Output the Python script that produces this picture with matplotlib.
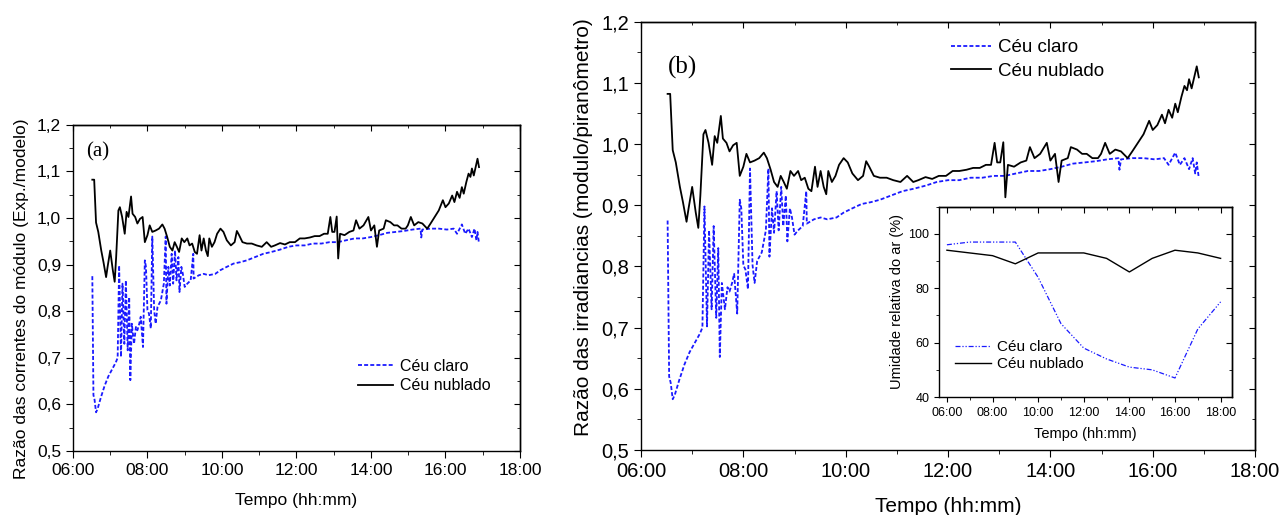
import matplotlib as mpl
import matplotlib.pyplot as plt
from matplotlib.ticker import MultipleLocator, FuncFormatter

mpl.rcParams.update({
    'font.family': ['Liberation Sans', 'DejaVu Sans'],
    'axes.linewidth': 1.0,
    'xtick.direction': 'out', 'ytick.direction': 'out',
})

# ---- main series (time in hours, ratio) ----
nub_t = [6.52, 6.57, 6.62, 6.68, 6.76, 6.82, 6.89, 6.93, 7.0, 7.07, 7.12, 7.16, 7.22, 7.26, 7.32,
         7.39, 7.44, 7.49, 7.56, 7.6, 7.67, 7.73, 7.8, 7.87, 7.93, 8.0, 8.06, 8.13, 8.22, 8.31,
         8.4, 8.46, 8.53, 8.6, 8.67, 8.73, 8.79, 8.85, 8.92, 8.99, 9.07, 9.13, 9.2, 9.27, 9.33,
         9.4, 9.45, 9.51, 9.57, 9.62, 9.66, 9.73, 9.8, 9.87, 9.96, 10.04, 10.13, 10.24, 10.34, 10.4,
         10.46, 10.55, 10.67, 10.8, 10.93, 11.07, 11.2, 11.32, 11.42, 11.56, 11.69, 11.82, 11.96, 12.09, 12.22,
         12.36, 12.49, 12.62, 12.74, 12.84, 12.91, 12.96, 13.02, 13.08, 13.12, 13.17, 13.29, 13.42, 13.53, 13.6,
         13.69, 13.8, 13.93, 14.0, 14.09, 14.16, 14.22, 14.34, 14.4, 14.52, 14.62, 14.71, 14.82, 14.93, 14.99,
         15.07, 15.16, 15.27, 15.38, 15.51, 15.6, 15.71, 15.82, 15.93, 16.0, 16.09, 16.18, 16.24, 16.31, 16.38,
         16.44, 16.49, 16.56, 16.62, 16.67, 16.71, 16.76, 16.81, 16.86, 16.9]
nub_v = [1.082, 1.082, 0.99, 0.97, 0.93, 0.905, 0.873, 0.895, 0.93, 0.888, 0.863, 0.916, 1.016, 1.023, 1.002,
         0.966, 1.013, 1.002, 1.046, 1.009, 1.002, 0.988, 0.998, 1.002, 0.948, 0.963, 0.984, 0.97, 0.973, 0.977,
         0.986, 0.977, 0.959, 0.938, 0.93, 0.948, 0.938, 0.927, 0.956, 0.948, 0.956, 0.941, 0.945, 0.927, 0.923,
         0.963, 0.93, 0.956, 0.93, 0.918, 0.956, 0.938, 0.948, 0.966, 0.977, 0.97, 0.952, 0.941, 0.948, 0.972,
         0.963, 0.948, 0.945, 0.945, 0.941, 0.938, 0.948, 0.938, 0.941, 0.946, 0.943, 0.948, 0.948, 0.956, 0.956,
         0.958, 0.961, 0.961, 0.966, 0.966, 1.002, 0.97, 0.97, 1.003, 0.913, 0.966, 0.963, 0.97, 0.973, 0.995,
         0.977, 0.984, 1.002, 0.973, 0.984, 0.938, 0.973, 0.977, 0.995, 0.991, 0.984, 0.984, 0.977, 0.977, 0.984,
         1.002, 0.984, 0.991, 0.988, 0.977, 0.988, 1.002, 1.016, 1.038, 1.023, 1.031, 1.048, 1.034, 1.056, 1.043,
         1.066, 1.052, 1.077, 1.095, 1.088, 1.106, 1.091, 1.109, 1.127, 1.109]

cla_t = [6.52, 6.55, 6.58, 6.62, 6.66, 6.75, 6.85, 6.95, 7.05, 7.15, 7.2, 7.24, 7.29, 7.33, 7.38,
         7.42, 7.47, 7.51, 7.54, 7.58, 7.64, 7.69, 7.73, 7.78, 7.82, 7.88, 7.93, 7.96, 8.0, 8.04,
         8.09, 8.13, 8.18, 8.22, 8.27, 8.36, 8.44, 8.49, 8.51, 8.56, 8.6, 8.65, 8.69, 8.74, 8.78,
         8.83, 8.86, 8.91, 8.95, 9.0, 9.07, 9.16, 9.23, 9.24, 9.38, 9.51, 9.64, 9.82, 9.96, 10.13,
         10.31, 10.49, 10.67, 10.89, 11.11, 11.33, 11.56, 11.78, 12.0, 12.22, 12.44, 12.67, 12.89, 13.11, 13.33,
         13.56, 13.78, 14.0, 14.22, 14.44, 14.67, 14.89, 15.11, 15.33, 15.35, 15.38, 15.6, 15.82, 16.04, 16.22,
         16.31, 16.44, 16.53, 16.62, 16.71, 16.78, 16.83, 16.86, 16.9]
cla_v = [0.875, 0.62, 0.61, 0.583, 0.59, 0.615, 0.64, 0.66, 0.675, 0.69, 0.70, 0.898, 0.702, 0.859, 0.73,
         0.866, 0.716, 0.83, 0.652, 0.773, 0.73, 0.766, 0.759, 0.773, 0.788, 0.723, 0.909, 0.895, 0.802, 0.795,
         0.763, 0.96, 0.802, 0.773, 0.809, 0.823, 0.859, 0.96, 0.816, 0.895, 0.855, 0.923, 0.859, 0.93, 0.866,
         0.916, 0.841, 0.895, 0.88, 0.852, 0.859, 0.866, 0.923, 0.87, 0.877, 0.88, 0.877, 0.88, 0.888, 0.895,
         0.902, 0.905, 0.909, 0.916, 0.923, 0.927, 0.932, 0.938, 0.941, 0.941, 0.945, 0.945, 0.948, 0.948, 0.952,
         0.956, 0.956, 0.959, 0.963, 0.968, 0.97, 0.972, 0.975, 0.977, 0.958, 0.975, 0.977, 0.977, 0.975, 0.977,
         0.966, 0.986, 0.966, 0.977, 0.959, 0.977, 0.952, 0.97, 0.945]

# ---- inset: relative humidity (%) ----
ur_t = [6, 7, 8, 9, 10, 11, 12, 13, 14, 15, 16, 17, 18]
ur_claro = [96, 97, 97, 97, 84, 67, 58, 54, 51, 50, 47, 65, 75]
ur_nublado = [94, 93, 92, 89, 93, 93, 93, 91, 86, 91, 94, 93, 91]

BLUE = '#1a1aff'
hhmm = FuncFormatter(lambda v, p: f'{int(round(v)):02d}:00')


def mirror(ax):
    # Origin-like frame: inward ticks on top/right
    top = ax.secondary_xaxis('top')
    top.xaxis.set_major_locator(ax.xaxis.get_major_locator())
    top.xaxis.set_minor_locator(ax.xaxis.get_minor_locator())
    right = ax.secondary_yaxis('right')
    right.yaxis.set_major_locator(ax.yaxis.get_major_locator())
    right.yaxis.set_minor_locator(ax.yaxis.get_minor_locator())
    for sec in (top, right):
        sec.tick_params(which='both', direction='in', labeltop=False, labelright=False,
                        labelbottom=False, labelleft=False)
        sec.tick_params(which='major', length=4)
        sec.tick_params(which='minor', length=2.5)


def main_panel(ax, ylabel, fs_tick, fs_lab, xpad, ly):
    ax.plot(cla_t, cla_v, color=BLUE, ls=(0, (2.2, 1.2)), lw=1.3, label='Céu claro')
    ax.plot(nub_t, nub_v, color='black', lw=1.3, label='Céu nublado')
    ax.set_xlim(6, 18)
    ax.set_ylim(0.5, 1.2)
    ax.xaxis.set_major_locator(MultipleLocator(2))
    ax.xaxis.set_minor_locator(MultipleLocator(1))
    ax.xaxis.set_major_formatter(hhmm)
    ax.yaxis.set_major_locator(MultipleLocator(0.1))
    ax.yaxis.set_minor_locator(MultipleLocator(0.05))
    ax.yaxis.set_major_formatter(FuncFormatter(lambda v, p: f'{v:.1f}'.replace('.', ',')))
    ax.tick_params(which='major', length=5, labelsize=fs_tick)
    ax.tick_params(which='minor', length=3)
    ax.set_xlabel('Tempo (hh:mm)', fontsize=fs_lab, labelpad=xpad)
    ax.set_ylabel(ylabel, fontsize=fs_lab, labelpad=6)
    ax.yaxis.label.set_y(ly)
    mirror(ax)


fig = plt.figure(figsize=(12.82, 5.15), dpi=100)

# (a)
ax1 = fig.add_axes([0.0569, 0.1243, 0.3487, 0.6336])
main_panel(ax1, 'Razão das correntes do módulo (Exp./modelo)', 12.5, 12.5, 11, 0.466)
ax1.text(0.029, 0.916, '(a)', transform=ax1.transAxes, fontsize=15,
         family='Liberation Serif', va='center')
ax1.legend(loc='center left', bbox_to_anchor=(0.62, 0.23), frameon=False, fontsize=11.5,
           handlelength=2.2, handletextpad=0.4, labelspacing=0.3, borderpad=0)

# (b)
ax2 = fig.add_axes([0.5, 0.1262, 0.479, 0.8317])
main_panel(ax2, 'Razão das irradiancias (modulo/piranômetro)', 14.5, 15, 12, 0.52)
ax2.text(0.044, 0.892, '(b)', transform=ax2.transAxes, fontsize=18,
         family='Liberation Serif', va='center')
ax2.legend(loc='center left', bbox_to_anchor=(0.49, 0.912), frameon=False, fontsize=13.5,
           handlelength=2.1, handletextpad=0.4, labelspacing=0.35, borderpad=0)

# inset: humidity
ax3 = fig.add_axes([0.7324, 0.2291, 0.2286, 0.3695])
ax3.plot(ur_t, ur_claro, color=BLUE, lw=0.9, ls=(0, (4, 1.5, 1, 1.5, 1, 1.5)), label='Céu claro')
ax3.plot(ur_t, ur_nublado, color='black', lw=1.0, label='Céu nublado')
ax3.set_xlim(5.65, 18.5)
ax3.set_ylim(40, 110)
ax3.xaxis.set_major_locator(MultipleLocator(2))
ax3.xaxis.set_minor_locator(MultipleLocator(1))
ax3.xaxis.set_major_formatter(hhmm)
ax3.yaxis.set_major_locator(MultipleLocator(20))
ax3.yaxis.set_minor_locator(MultipleLocator(10))
ax3.tick_params(which='major', length=3.5, labelsize=9)
ax3.tick_params(which='minor', length=2)
ax3.set_xlabel('Tempo (hh:mm)', fontsize=10.5, labelpad=6)
ax3.set_ylabel('Umidade relativa do ar (%)', fontsize=10.5, labelpad=3)
mirror(ax3)
ax3.legend(loc='center left', bbox_to_anchor=(0.03, 0.218), frameon=False, fontsize=11,
           handlelength=2.3, handletextpad=0.4, labelspacing=0.2, borderpad=0)

fig.savefig('out.png', dpi=100)
